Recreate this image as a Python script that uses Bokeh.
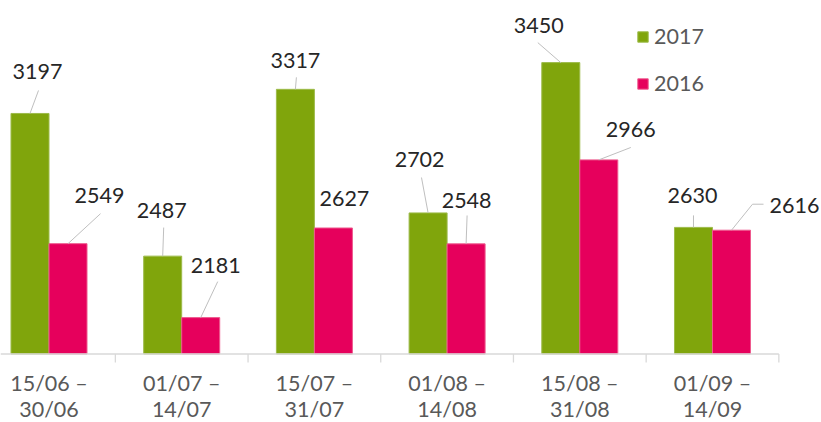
from bokeh.plotting import figure
from bokeh.models import Legend, LegendItem, Range1d
from bokeh.embed import file_html
from bokeh.resources import INLINE
from bokeh.core.properties import value

# ---- data ----
period_start = ["15/06 –", "01/07 –", "15/07 –", "01/08 –", "15/08 –", "01/09 –"]
period_end = ["30/06", "14/07", "31/07", "14/08", "31/08", "14/09"]
v2017 = [3197, 2487, 3317, 2702, 3450, 2630]
v2016 = [2549, 2181, 2627, 2548, 2966, 2616]
series_names = ["2017", "2016"]

# ---- styling / layout ----
GREEN = "#80a50c"
MAGENTA = "#e6005c"
W, H = 821, 422
X0, X1 = -0.3655, 5.8214
Y0, Y1 = 1659.1, 3759.1
BASE = 2000
BW = 0.2864
FONT = "Lato"
FS = "21.5px"
kx = W / (X1 - X0)
ky = H / (Y1 - Y0)

# label offsets (px) relative to bar top centre: (dx right, dy up)
lab17 = [(7.5, 42), (-1, 45.6), (0, 29), (-8.5, 53), (-22, 37), (-1, 32)]
lab16 = [(31.5, 48), (15, 52), (11, 29.5), (0.5, 43), (32, 30), (63, 25)]
# leader polylines (px offsets from bar top centre, ending at the bar)
lead17 = [[(8.5, 23)], [(1, 28.6)], [(1, 12)], [(-6.6, 35.4)], [(-23, 20)], [(0, 12)]]
lead16 = [[(32.5, 30)], [(17, 36)], None, [(1, 28.4)], [(32, 12.4)], [(32, 26), (21, 26)]]

p = figure(width=W, height=H, x_range=Range1d(X0, X1), y_range=Range1d(Y0, Y1),
           output_backend="svg", toolbar_location=None,
           x_axis_type=None, y_axis_type=None, min_border=0,
           outline_line_color=None, background_fill_color="white",
           border_fill_color="white")
p.grid.visible = False

idx = list(range(len(v2017)))
x17 = [i - BW / 2 for i in idx]
x16 = [i + BW / 2 for i in idx]

r17 = p.vbar(x=x17, top=v2017, bottom=BASE, width=BW, fill_color=GREEN,
             line_color="#9dbb4a", line_width=1)
r16 = p.vbar(x=x16, top=v2016, bottom=BASE, width=BW, fill_color=MAGENTA,
             line_color="#ee5a8e", line_width=1)

# baseline axis and boundary ticks
p.segment(x0=[X0], y0=[BASE], x1=[len(idx) - 0.5], y1=[BASE], line_color="#d9d9d9", line_width=1.3)
tick_x = [i + 0.5 for i in idx]
p.segment(x0=tick_x, y0=[BASE] * len(idx), x1=tick_x, y1=[BASE - 8.5 / ky] * len(idx),
          line_color="#d9d9d9", line_width=1.3)

# category labels
p.text(x=idx, y=[BASE - 29.5 / ky] * len(idx), text=period_start, text_font=value(FONT),
       text_font_size=FS, text_color="#595959", text_align="center", text_baseline="middle")
p.text(x=idx, y=[BASE - 55 / ky] * len(idx), text=period_end, text_font=value(FONT),
       text_font_size=FS, text_color="#595959", text_align="center", text_baseline="middle")

# data labels and leader lines
xs, ys = [], []
for xc, vals, labs, leads in ((x17, v2017, lab17, lead17), (x16, v2016, lab16, lead16)):
    p.text(x=xc, y=vals, text=[str(v) for v in vals],
           x_offset=[d[0] for d in labs], y_offset=[-d[1] for d in labs],
           text_font=value(FONT), text_font_size=FS, text_color="#262626",
           text_align="center", text_baseline="middle")
    for x, v, ld in zip(xc, vals, leads):
        if ld is None:
            continue
        pts = ld + [(0, 0)]
        xs.append([x + a / kx for a, b in pts])
        ys.append([v + b / ky for a, b in pts])
p.multi_line(xs=xs, ys=ys, line_color="#bfbfbf", line_width=1)

legend = Legend(items=[LegendItem(label=series_names[0], renderers=[r17]),
                       LegendItem(label=series_names[1], renderers=[r16])],
                location=(636, 326), glyph_width=13, glyph_height=13,
                label_text_font=FONT, label_text_font_size=FS,
                label_text_color="#595959", spacing=21, padding=0, margin=0,
                border_line_color=None, background_fill_alpha=0, label_standoff=5)
p.add_layout(legend)

open("out.html", "w").write(file_html(p, INLINE))
